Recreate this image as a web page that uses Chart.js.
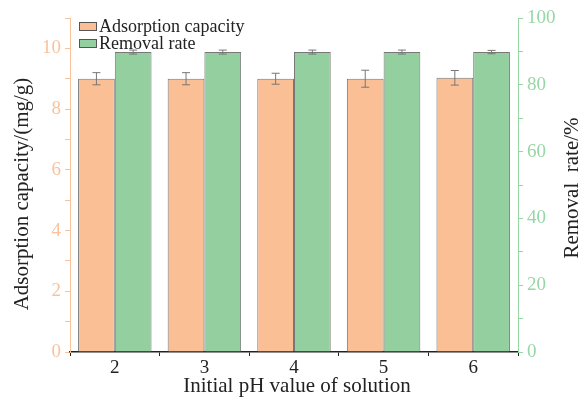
<!DOCTYPE html>
<html><head><meta charset="utf-8">
<script src="https://cdn.jsdelivr.net/npm/chart.js@4/dist/chart.umd.min.js"></script>
<style>html,body{margin:0;padding:0;background:#fff}#wrap{width:582px;height:402px}</style>
</head><body><div id="wrap"><canvas id="c" width="582" height="402"></canvas></div>
<script>
const categories = ['2','3','4','5','6'];
const adsorption = [9.0, 9.0, 9.0, 9.0, 9.03];
const adsorptionErr = [0.2, 0.2, 0.18, 0.28, 0.24];
const removal = [89.8, 89.8, 89.8, 89.8, 89.8];
const removalErr = [0.6, 0.6, 0.6, 0.6, 0.5];
const leftTicks = [0, 2, 4, 6, 8, 10];
const rightTicks = [0, 20, 40, 60, 80, 100];
const xTitle = 'Initial pH value of solution';
const yTitle = 'Adsorption capacity/(mg/g)';
const y2Title = 'Removal  rate/%';

const ORANGE = '#fbbf95', GREEN = '#93cf9f';
const ORANGE_T = '#f9c29c', GREEN_T = '#97d6a5';
const FONT = "'Liberation Serif', 'DejaVu Serif', serif";

const errPlugin = {
  id: 'err',
  afterDatasetsDraw(chart) {
    const ctx = chart.ctx;
    const errs = [adsorptionErr, removalErr];
    chart.data.datasets.forEach((ds, di) => {
      const meta = chart.getDatasetMeta(di);
      const ys = chart.scales[ds.yAxisID];
      meta.data.forEach((bar, i) => {
        const v = ds.data[i], e = errs[di][i];
        const yt = ys.getPixelForValue(v + e), yb = ys.getPixelForValue(v - e);
        ctx.save();
        ctx.strokeStyle = '#777'; ctx.lineWidth = 1;
        ctx.beginPath();
        ctx.moveTo(bar.x, yt); ctx.lineTo(bar.x, yb);
        ctx.moveTo(bar.x - 4, yt); ctx.lineTo(bar.x + 4, yt);
        ctx.moveTo(bar.x - 4, yb); ctx.lineTo(bar.x + 4, yb);
        ctx.stroke(); ctx.restore();
      });
    });
  }
};
const legendPlugin = {
  id: 'leg',
  afterDraw(chart) {
    const ctx = chart.ctx;
    const x0 = chart.chartArea.left + 9, y0 = chart.chartArea.top + 8;
    chart.data.datasets.forEach((ds, i) => {
      const y = y0 + i * 17;
      ctx.save();
      ctx.fillStyle = ds.backgroundColor; ctx.strokeStyle = '#555'; ctx.lineWidth = 1;
      ctx.fillRect(x0, y - 4, 17, 8); ctx.strokeRect(x0 + 0.5, y - 3.5, 17, 8);
      ctx.fillStyle = '#222'; ctx.font = '18px ' + FONT; ctx.textBaseline = 'middle';
      ctx.fillText(ds.label, x0 + 20, y + 1);
      ctx.restore();
    });
  }
};
const titlePlugin = {
  id: 'titles',
  afterDraw(chart) {
    const ctx = chart.ctx;
    const ca = chart.chartArea;
    ctx.save();
    ctx.fillStyle = '#222'; ctx.font = '21px ' + FONT;
    ctx.textAlign = 'center'; ctx.textBaseline = 'middle';
    ctx.fillText(xTitle, (ca.left + ca.right) / 2 + 3, 386);
    ctx.save(); ctx.translate(22, 194); ctx.rotate(-Math.PI / 2); ctx.fillText(yTitle, 0, 0); ctx.restore();
    ctx.save(); ctx.translate(572, 188); ctx.rotate(-Math.PI / 2); ctx.fillText(y2Title, 0, 0); ctx.restore();
    ctx.restore();
  }
};

new Chart(document.getElementById('c'), {
  type: 'bar',
  data: {
    labels: categories,
    datasets: [
      { label: 'Adsorption capacity', data: adsorption, yAxisID: 'y', backgroundColor: ORANGE, borderColor: '#777', borderWidth: 1 },
      { label: 'Removal rate', data: removal, yAxisID: 'y2', backgroundColor: GREEN, borderColor: '#777', borderWidth: 1 }
    ]
  },
  options: {
    responsive: false, animation: false,
    layout: { padding: { top: 18, right: 0, left: 0, bottom: 0 } },
    datasets: { bar: { categoryPercentage: 0.82, barPercentage: 1 } },
    plugins: { legend: { display: false }, tooltip: { enabled: false } },
    scales: {
      x: {
        grid: { display: true, drawOnChartArea: false, tickLength: 4, color: '#222' },
        border: { color: '#222', width: 1.5 },
        ticks: { color: '#222', font: { family: FONT, size: 19 }, padding: 1 },
        afterFit(s) { s.height = 50; }
      },
      y: {
        position: 'left', min: 0, max: 11,
        afterBuildTicks(s) { s.ticks = []; for (let v = 0; v <= 11; v++) s.ticks.push({ value: v }); },
        grid: { drawOnChartArea: false, tickLength: 5, color: ORANGE_T },
        border: { color: ORANGE_T, width: 1 },
        ticks: { color: ORANGE_T, font: { family: FONT, size: 19 }, padding: 4,
          callback: v => leftTicks.includes(v) ? String(v) : '' },
        afterFit(s) { s.width = 70; }
      },
      y2: {
        position: 'right', min: 0, max: 100,
        afterBuildTicks(s) { s.ticks = []; for (let v = 0; v <= 100; v += 10) s.ticks.push({ value: v }); },
        grid: { drawOnChartArea: false, tickLength: 5, color: GREEN_T },
        border: { color: GREEN_T, width: 1 },
        ticks: { color: GREEN_T, font: { family: FONT, size: 19 }, padding: 4,
          callback: v => rightTicks.includes(v) ? String(v) : '' },
        afterFit(s) { s.width = 64; }
      }
    }
  },
  plugins: [errPlugin, legendPlugin, titlePlugin]
});
</script></body></html>
